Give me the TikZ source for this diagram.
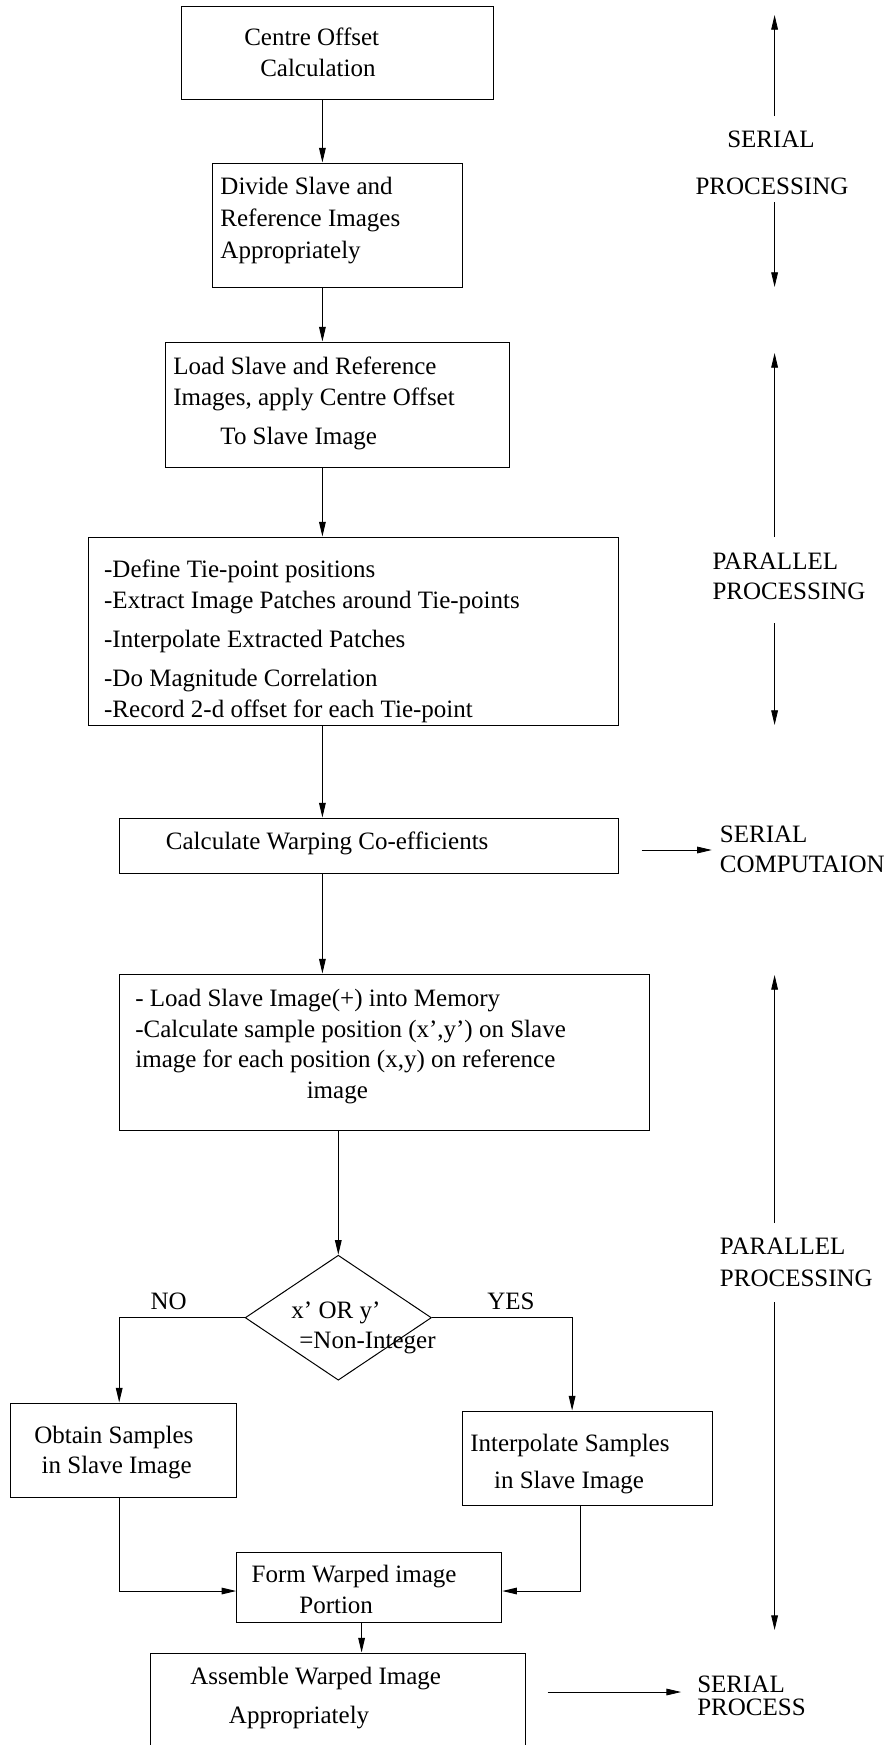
\documentclass[tikz,border=0pt]{standalone}
\usepackage{fontspec}
\setmainfont{Liberation Serif}
\usetikzlibrary{shapes.geometric,fit,arrows.meta}
\begin{document}
\begin{tikzpicture}[x=0.75pt,y=-0.75pt,
  box/.style={draw,line width=0.75pt,inner sep=0pt},
  txt/.style={inner sep=0pt,anchor=base west,font=\fontsize{18.75}{22}\selectfont},
  ctxt/.style={inner sep=0pt,anchor=base,font=\fontsize{18.75}{22}\selectfont},
  arr/.style={line width=0.75pt,-{Triangle[length=11pt,width=5pt]}},
  side/.style={line width=0.6pt,-{Triangle[length=11pt,width=5pt]}}]
\useasboundingbox (0,0) rectangle (890,1745);
\clip (0,0) rectangle (890,1745);

% boxes
\node[box,fit={(181.6,7)(493.8,100)}] (b1) {};
\node[box,fit={(212.9,163)(462.6,287)}] (b2) {};
\node[box,fit={(165.7,342)(509.7,467)}] (b3) {};
\node[box,fit={(88,537)(618.7,725)}] (b4) {};
\node[box,fit={(119.2,818)(618.7,873)}] (b5) {};
\node[box,fit={(119.2,974)(649.9,1130)}] (b6) {};
\node[draw,diamond,line width=0.75pt,inner sep=0pt,minimum width=139.7pt,minimum height=93.75pt] (dec) at (338.3,1317.7) {};
\node[box,fit={(10.2,1403)(236.7,1497)}] (b7) {};
\node[box,fit={(462.6,1411)(712.3,1505)}] (b8) {};
\node[box,fit={(236.7,1552)(501.8,1622)}] (b9) {};
\node[box,fit={(150.4,1653)(525,1800)}] (b10) {};

% texts
\node[txt] (t1a) at (244,46) {Centre Offset};
\node[txt] (t1b) at (260,77) {Calculation};
\node[txt] (t2a) at (220.2,194) {Divide Slave and};
\node[txt] (t2b) at (220.2,226) {Reference Images};
\node[txt] (t2c) at (220.2,258) {Appropriately};
\node[txt] (t3a) at (173.1,374) {Load Slave and Reference};
\node[txt] (t3b) at (173.1,405) {Images, apply Centre Offset};
\node[txt] (t3c) at (220.2,444) {To Slave Image};
\node[txt] (t4a) at (103.9,577) {-Define Tie-point positions};
\node[txt] (t4b) at (103.9,608) {-Extract Image Patches around Tie-points};
\node[txt] (t4c) at (103.9,647) {-Interpolate Extracted Patches};
\node[txt] (t4d) at (103.9,686) {-Do Magnitude Correlation};
\node[txt] (t4e) at (103.9,717) {-Record 2-d offset for each Tie-point};
\node[txt] (t5a) at (165.7,849) {Calculate Warping Co-efficients};
\node[txt] (t6a) at (135.1,1006) {- Load Slave Image(+) into Memory};
\node[txt] (t6b) at (135.1,1037) {-Calculate sample position (x',y') on Slave};
\node[txt] (t6c) at (135.1,1067) {image for each position (x,y) on reference};
\node[txt] (t6d) at (306.5,1098) {image};
\node[txt] (tda) at (291.2,1318) {x' OR y'};
\node[txt] (tdb) at (299.1,1348) {=Non-Integer};
\node[txt] (tno) at (150.4,1309) {NO};
\node[txt] (tyes) at (487,1309) {YES};
\node[txt] (t7a) at (34.1,1443) {Obtain Samples};
\node[txt] (t7b) at (41.4,1473) {in Slave Image};
\node[txt] (t8a) at (470,1451) {Interpolate Samples};
\node[txt] (t8b) at (493.8,1488) {in Slave Image};
\node[txt] (t9a) at (251.4,1582) {Form Warped image};
\node[txt] (t9b) at (299.1,1613) {Portion};
\node[txt] (t10a) at (190.1,1684) {Assemble Warped Image};
\node[txt] (t10b) at (228.7,1723) {Appropriately};

% side labels
\node[ctxt] (s1a) at (771,147) {SERIAL};
\node[ctxt] (s1b) at (772,194) {PROCESSING};
\node[txt] (s2a) at (712.3,569) {PARALLEL};
\node[txt] (s2b) at (712.3,599) {PROCESSING};
\node[txt] (s3a) at (719.7,842) {SERIAL};
\node[txt] (s3b) at (719.7,872) {COMPUTAION};
\node[txt] (s4a) at (719.7,1254) {PARALLEL};
\node[txt] (s4b) at (719.7,1286) {PROCESSING};
\node[txt] (s5a) at (697,1692) {SERIAL};
\node[txt] (s5b) at (697,1715) {PROCESS};

% main flow connectors
\coordinate (sp) at (322.4,0);
\draw[arr] (b1.south -| sp) -- (b2.north -| sp);
\draw[arr] (b2.south -| sp) -- (b3.north -| sp);
\draw[arr] (b3.south -| sp) -- (b4.north -| sp);
\draw[arr] (b4.south -| sp) -- (b5.north -| sp);
\draw[arr] (b5.south -| sp) -- (b6.north -| sp);
\draw[arr] (b6.south -| dec.north) -- (dec.north);
\coordinate (lx) at (119.2,0);
\coordinate (rx) at (572.1,0);
\coordinate (rx2) at (580.1,0);
\coordinate (my) at (0,1591);
\coordinate (bx) at (361.6,0);
\draw[arr] (dec.west) -| (b7.north -| lx);
\draw[arr] (dec.east) -| (b8.north -| rx);
\draw[arr] (b7.south -| lx) |- (b9.west |- my);
\draw[arr] (b8.south -| rx2) |- (b9.east |- my);
\draw[arr] (b9.south -| bx) -- (b10.north -| bx);

% side arrows
\coordinate (r1a) at (774.6,116);  \coordinate (r1t) at (774.6,15);
\coordinate (r1b) at (774.6,202);  \coordinate (r1d) at (774.6,287);
\coordinate (r2a) at (774.6,537);  \coordinate (r2t) at (774.6,353);
\coordinate (r2b) at (774.6,623);  \coordinate (r2d) at (774.6,725);
\coordinate (r3a) at (774.6,1223); \coordinate (r3t) at (774.6,975);
\coordinate (r3b) at (774.6,1302); \coordinate (r3d) at (774.6,1630);
\draw[side] (r1a) -- (r1t);
\draw[side] (r1b) -- (r1d);
\draw[side] (r2a) -- (r2t);
\draw[side] (r2b) -- (r2d);
\draw[side] (r3a) -- (r3t);
\draw[side] (r3b) -- (r3d);
\coordinate (h1a) at (641.5,850); \coordinate (h1b) at (711.8,850);
\coordinate (h2a) at (547.7,1692); \coordinate (h2b) at (681.1,1692);
\draw[side] (h1a) -- (h1b);
\draw[side] (h2a) -- (h2b);
\end{tikzpicture}
\end{document}
